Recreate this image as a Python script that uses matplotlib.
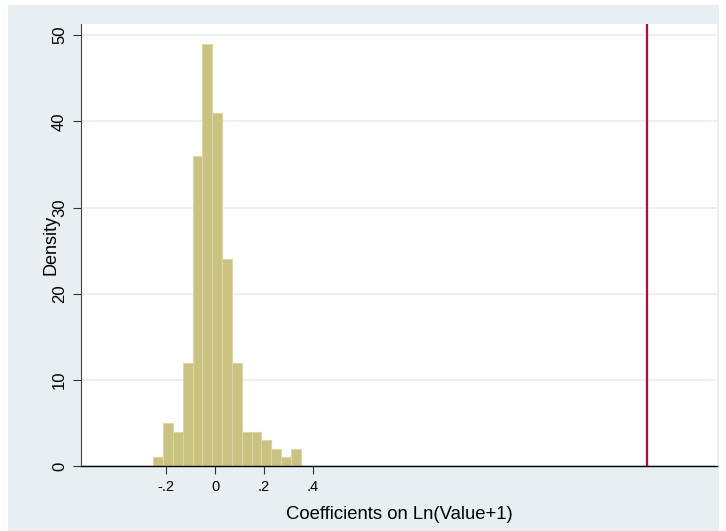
import matplotlib.pyplot as plt
from matplotlib.patches import Rectangle

plt.rcParams['font.family'] = ['Liberation Sans', 'DejaVu Sans']

# histogram (density)
bin_start = -0.252
bin_width = 0.0401
density = [1, 5, 4, 12, 36, 49, 41, 24, 12, 4, 4, 3, 2, 1, 2]
actual_coef = 1.762  # red reference line

xticks = [-0.2, 0, 0.2, 0.4]
xticklabels = ['-.2', '0', '.2', '.4']
yticks = [0, 10, 20, 30, 40, 50]

W, H = 726, 531
fig = plt.figure(figsize=(W / 100, H / 100), dpi=100, facecolor='white')

# stata style grey graph region
fig.add_artist(Rectangle((8 / W, 0), (719 - 8) / W, (H - 5) / H,
                         transform=fig.transFigure, facecolor='#e8eff2',
                         edgecolor='none', zorder=-10))

ax = fig.add_axes([81 / W, (H - 466) / H, (717 - 81) / W, (466 - 24) / H])
ax.set_facecolor('white')

lefts = [bin_start + i * bin_width for i in range(len(density))]
ax.bar(lefts, density, width=bin_width, align='edge',
       color='#c9c281', edgecolor='#dcd6a4', linewidth=0.8, zorder=2)
ax.axvline(actual_coef, color='#c10534', linewidth=1.6, zorder=3)

ax.set_xlim(-0.547, 2.049)
ax.set_ylim(0, 51.3)

ax.set_xticks(xticks)
ax.set_xticklabels(xticklabels, fontsize=10.5)
ax.set_yticks(yticks)
ax.set_yticklabels([str(t) for t in yticks], fontsize=12, rotation=90, va='center')
ax.tick_params(axis='both', length=6, width=0.8, color='#333333', pad=4)

ax.grid(axis='y', color='#e6eef1', linewidth=1.2, zorder=0)
ax.set_axisbelow(True)

for s in ['top', 'right']:
    ax.spines[s].set_visible(False)
ax.spines['left'].set_color('#444444')
ax.spines['bottom'].set_color('black')
ax.spines['bottom'].set_linewidth(1.0)

ax.set_xlabel('Coefficients on Ln(Value+1)', fontsize=13.3, labelpad=9)
ax.set_ylabel('Density', fontsize=13, labelpad=-5)

fig.savefig('out.png', dpi=100, facecolor='white')
